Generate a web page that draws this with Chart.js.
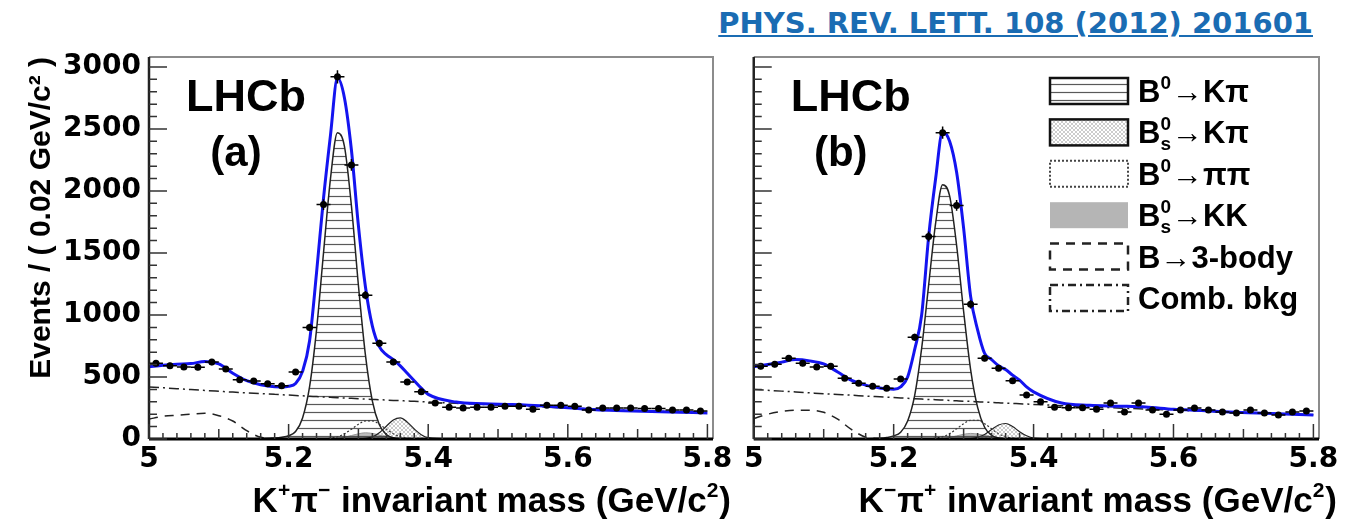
<!DOCTYPE html>
<html>
<head>
<meta charset="utf-8">
<script src="https://cdn.jsdelivr.net/npm/chart.js@4.4.1/dist/chart.umd.min.js"></script>
<style>
  html, body { margin: 0; padding: 0; background: #fff; overflow: hidden; }
  #ref { position: absolute; right: 32px; top: 6px; font: bold 29px "DejaVu Sans"; color: #1a6cb3;
         text-decoration: underline; line-height: 34px; white-space: nowrap; }
  #left { position: absolute; left: 0; top: 0; }
  #right { position: absolute; left: 740px; top: 0; }
</style>
</head>
<body>
<div id="ref">PHYS. REV. LETT. 108 (2012) 201601</div>
<canvas id="left" width="740" height="519"></canvas>
<canvas id="right" width="605" height="519"></canvas>
<script>
// mass points for the fitted curves (GeV/c^2)
var massGrid = [5.00, 5.02, 5.04, 5.06, 5.08, 5.10, 5.12, 5.14, 5.16, 5.18, 5.19, 5.20, 5.21, 5.22, 5.23, 5.24,
  5.25, 5.26, 5.27, 5.28, 5.29, 5.30, 5.31, 5.32, 5.33, 5.34, 5.35, 5.36, 5.37, 5.38, 5.39, 5.40,
  5.44, 5.48, 5.52, 5.56, 5.60, 5.64, 5.68, 5.72, 5.76, 5.80];
// histogram bin centres (0.02 GeV/c^2 bins)
var binCenters = [5.01, 5.03, 5.05, 5.07, 5.09, 5.11, 5.13, 5.15, 5.17, 5.19, 5.21, 5.23, 5.25, 5.27, 5.29,
  5.31, 5.33, 5.35, 5.37, 5.39, 5.41, 5.43, 5.45, 5.47, 5.49, 5.51, 5.53, 5.55, 5.57, 5.59, 5.61, 5.63,
  5.65, 5.67, 5.69, 5.71, 5.73, 5.75, 5.77, 5.79];
var xTicks = [5.0, 5.2, 5.4, 5.6, 5.8];
var xTickLabels = ['5', '5.2', '5.4', '5.6', '5.8'];
var yTicks = [0, 500, 1000, 1500, 2000, 2500, 3000];
var yTickLabels = ['0', '500', '1000', '1500', '2000', '2500', '3000'];

// panel (a)  K+ pi-
var dataA = [611, 590, 580, 578, 620, 565, 478, 467, 445, 430, 540, 900, 1890, 2920, 2210, 1160, 772, 620, 460, 380,
  290, 257, 250, 257, 257, 265, 265, 240, 273, 273, 265, 233, 250, 250, 250, 245, 245, 233, 233, 225];
var totalA = [582, 595, 603, 608, 625, 605, 530, 470, 437, 421, 420, 425, 448, 545, 790, 1340, 1940, 2450, 2910, 2750,
  2330, 1720, 1230, 910, 745, 680, 640, 590, 530, 470, 410, 360, 298, 285, 278, 268, 252, 235, 228, 222, 216, 210];
var combA = [420, 413, 406, 399, 392, 385, 378, 372, 366, 360, 357, 354, 351, 348, 345, 342, 339, 336, 333, 331,
  328, 325, 322, 319, 317, 314, 311, 309, 306, 304, 301, 298, 288, 278, 268, 259, 250, 242, 234, 226, 218, 211];
var threeBodyA = [160, 183, 192, 200, 208, 188, 145, 67, 14, 3, 1, 0];                 // from 5.00
var b0KpiA = [0, 3, 8, 14, 26, 60, 170, 420, 880, 1500, 2100, 2470, 2360, 1880, 1240, 680, 305, 115, 36, 10, 2, 0]; // from 5.14
var bsKpiA = [0, 1, 5, 18, 51, 103, 154, 170, 136, 81, 35, 11, 0];                    // from 5.29
var b0PipiA = [0, 2, 7, 18, 42, 79, 119, 146, 146, 119, 79, 42, 18, 7, 2, 0];         // from 5.24
var bsKKA = [0, 2, 6, 14, 28, 42, 50, 45, 32, 18, 8, 3, 1, 0];                        // from 5.25

// panel (b)  K- pi+
var dataB = [587, 603, 652, 611, 580, 587, 490, 450, 426, 410, 483, 820, 1633, 2470, 1883, 1086, 652, 571, 470, 354,
  300, 257, 252, 252, 240, 290, 217, 290, 233, 200, 233, 250, 233, 217, 209, 233, 209, 193, 217, 225];
var totalB = [582, 600, 620, 640, 630, 605, 540, 472, 434, 412, 405, 402, 420, 500, 720, 1000, 1630, 2100, 2480, 2400,
  2150, 1700, 1150, 880, 690, 640, 590, 560, 515, 475, 420, 380, 290, 272, 265, 258, 240, 230, 218, 210, 202, 194];
var combB = [400, 393, 386, 379, 372, 365, 359, 353, 346, 340, 337, 334, 331, 328, 325, 322, 319, 317, 314, 311,
  308, 305, 303, 300, 297, 295, 292, 289, 287, 284, 282, 279, 269, 260, 250, 242, 233, 225, 217, 209, 202, 195];
var threeBodyB = [165, 200, 222, 232, 232, 215, 160, 75, 15, 3, 1, 0];
var b0KpiB = [0, 2, 6, 12, 25, 55, 145, 350, 730, 1240, 1740, 2050, 1960, 1560, 1030, 560, 255, 95, 30, 8, 2, 0];
var bsKpiB = [0, 1, 4, 14, 37, 76, 113, 125, 100, 59, 26, 8, 0];
var b0PipiB = [0, 2, 7, 19, 43, 82, 123, 151, 151, 123, 82, 43, 19, 7, 2, 0];
var bsKKB = [0, 2, 5, 12, 25, 38, 45, 40, 29, 16, 7, 3, 1, 0];

function curve(start, vals) {
  var i0 = massGrid.indexOf(start);
  return vals.map(function (v, i) { return { x: massGrid[i0 + i], y: v }; });
}

function makePatterns(ctx) {
  var t = document.createElement('canvas');
  t.width = 8; t.height = 8;
  var g = t.getContext('2d');
  g.strokeStyle = 'rgba(60,60,60,0.85)';
  g.lineWidth = 1.2;
  g.beginPath(); g.moveTo(0, 4.5); g.lineTo(8, 4.5); g.stroke();
  var d = document.createElement('canvas');
  d.width = 4; d.height = 4;
  var h = d.getContext('2d');
  h.strokeStyle = 'rgba(120,120,120,0.55)';
  h.lineWidth = 0.7;
  h.beginPath(); h.moveTo(0, 0); h.lineTo(4, 4); h.moveTo(4, 0); h.lineTo(0, 4); h.stroke();
  return { lines: ctx.createPattern(t, 'repeat'), dots: ctx.createPattern(d, 'repeat') };
}

// text with super/subscripts: parts = [{t:..}|{sup:..,sub:..}]
function drawRich(ctx, parts, x, y, size, draw) {
  var cx = x;
  parts.forEach(function (p) {
    if (p.t !== undefined) {
      ctx.font = 'bold ' + size + 'px "Liberation Sans"';
      if (draw) ctx.fillText(p.t, cx, y);
      cx += ctx.measureText(p.t).width;
    } else {
      ctx.font = 'bold ' + Math.round(size * 0.6) + 'px "Liberation Sans"';
      var w = 0;
      if (p.sup) { if (draw) ctx.fillText(p.sup, cx, y - size * 0.42); w = ctx.measureText(p.sup).width; }
      if (p.sub) { if (draw) ctx.fillText(p.sub, cx, y + size * 0.22); w = Math.max(w, ctx.measureText(p.sub).width); }
      cx += w + 1;
    }
  });
  return cx - x;
}

var legendItems = [
  { parts: [{ t: 'B' }, { sup: '0' }, { t: '→Kπ' }], style: 'lines' },
  { parts: [{ t: 'B' }, { sup: '0', sub: 's' }, { t: '→Kπ' }], style: 'dots' },
  { parts: [{ t: 'B' }, { sup: '0' }, { t: '→ππ' }], style: 'dotted' },
  { parts: [{ t: 'B' }, { sup: '0', sub: 's' }, { t: '→KK' }], style: 'gray' },
  { parts: [{ t: 'B→3-body' }], style: 'dashed' },
  { parts: [{ t: 'Comb. bkg' }], style: 'dashdot' }
];

var panelPlugin = {
  id: 'panel',
  afterDatasetsDraw: function (chart) {
    var a = chart.chartArea, ctx = chart.ctx, sx = chart.scales.x, sy = chart.scales.y;
    var p = chart.options.plugins.panel;
    ctx.save();
    // error bars on the data points
    ctx.strokeStyle = '#000';
    ctx.lineWidth = 1.5;
    chart.data.datasets[0].data.forEach(function (pt) {
      var px = sx.getPixelForValue(pt.x), py = sy.getPixelForValue(pt.y);
      var e = Math.sqrt(pt.y);
      ctx.beginPath();
      ctx.moveTo(sx.getPixelForValue(pt.x - 0.01), py);
      ctx.lineTo(sx.getPixelForValue(pt.x + 0.01), py);
      ctx.moveTo(px, sy.getPixelForValue(pt.y - e));
      ctx.lineTo(px, sy.getPixelForValue(pt.y + e));
      ctx.stroke();
    });
    // frame
    ctx.strokeStyle = '#8c8c8c';
    ctx.lineWidth = 2;
    ctx.beginPath(); ctx.moveTo(a.left, a.top); ctx.lineTo(a.right, a.top); ctx.lineTo(a.right, a.bottom); ctx.stroke();
    ctx.strokeStyle = '#222';
    ctx.lineWidth = 2.5;
    ctx.beginPath(); ctx.moveTo(a.left, a.top); ctx.lineTo(a.left, a.bottom); ctx.stroke();
    ctx.strokeStyle = '#000';
    ctx.lineWidth = 3;
    ctx.beginPath(); ctx.moveTo(a.left, a.bottom); ctx.lineTo(a.right, a.bottom); ctx.stroke();
    // inward ticks
    ctx.strokeStyle = '#333';
    ctx.lineWidth = 1.5;
    ctx.beginPath();
    for (var v = 0; v <= 3000; v += 100) {
      var ty = sy.getPixelForValue(v);
      ctx.moveTo(a.left, ty); ctx.lineTo(a.left + (v % 500 === 0 ? 18 : 8), ty);
    }
    for (var i = 0; i <= 40; i++) {
      var tx = sx.getPixelForValue(5 + i * 0.02);
      var len = i % 10 === 0 ? 15 : (i % 5 === 0 ? 10 : 6);
      ctx.moveTo(tx, a.bottom); ctx.lineTo(tx, a.bottom - len);
    }
    ctx.stroke();
    // labels
    ctx.fillStyle = '#000';
    ctx.textBaseline = 'alphabetic';
    ctx.textAlign = 'left';
    ctx.font = 'bold 45px "Liberation Sans"';
    ctx.fillText('LHCb', a.left + 37, 111);
    ctx.textAlign = 'center';
    ctx.font = 'bold 42px "Liberation Sans"';
    ctx.fillText(p.tag, a.left + 87, 166);
    ctx.textAlign = 'left';
    var w = drawRich(ctx, p.xTitle, 0, 0, 35, false);
    drawRich(ctx, p.xTitle, a.right + 18 - w, 512, 35, true);
    // legend
    if (p.legend) {
      var pats = chart.options.plugins.panel.patterns;
      legendItems.forEach(function (it, k) {
        var cy = 91 + k * 41.4, x0 = 310, y0 = cy - 13, bw = 78, bh = 26;
        ctx.save();
        ctx.setLineDash([]);
        if (it.style === 'lines') { ctx.fillStyle = pats.lines; ctx.fillRect(x0, y0, bw, bh); ctx.strokeStyle = '#111'; ctx.lineWidth = 2.5; ctx.strokeRect(x0, y0, bw, bh); }
        if (it.style === 'dots') { ctx.fillStyle = pats.dots; ctx.fillRect(x0, y0, bw, bh); ctx.strokeStyle = '#111'; ctx.lineWidth = 2.5; ctx.strokeRect(x0, y0, bw, bh); }
        if (it.style === 'dotted') { ctx.strokeStyle = '#444'; ctx.lineWidth = 2; ctx.setLineDash([2, 2]); ctx.strokeRect(x0, y0, bw, bh); }
        if (it.style === 'gray') { ctx.fillStyle = '#b5b5b5'; ctx.fillRect(x0, y0, bw, bh); }
        if (it.style === 'dashed') { ctx.strokeStyle = '#222'; ctx.lineWidth = 2.5; ctx.setLineDash([9, 7]); ctx.strokeRect(x0, y0, bw, bh); }
        if (it.style === 'dashdot') { ctx.strokeStyle = '#222'; ctx.lineWidth = 2.5; ctx.setLineDash([8, 4, 2, 4]); ctx.strokeRect(x0, y0, bw, bh); }
        ctx.restore();
        ctx.fillStyle = '#000';
        drawRich(ctx, it.parts, 398, cy + 11, 31, true);
      });
    }
    ctx.restore();
  }
};

function makePanel(id, p) {
  var ctx = document.getElementById(id).getContext('2d');
  var pats = makePatterns(ctx);
  var line = function (extra) {
    return Object.assign({ pointRadius: 0, fill: false, cubicInterpolationMode: 'monotone', spanGaps: false }, extra);
  };
  return new Chart(ctx, {
    type: 'line',
    data: {
      datasets: [
        { label: 'Data', data: binCenters.map(function (m, i) { return { x: m, y: p.data[i] }; }),
          showLine: false, pointRadius: 3.5, pointBackgroundColor: '#000', pointBorderWidth: 0, order: 0 },
        line({ label: 'Total', data: curve(5.00, p.total), borderColor: '#1414f0', borderWidth: 3, order: 1 }),
        line({ label: 'Comb. bkg', data: curve(5.00, p.comb), borderColor: '#222', borderWidth: 1.5, borderDash: [10, 4, 2, 4], order: 2 }),
        line({ label: 'B→3-body', data: curve(5.00, p.threeBody), borderColor: '#222', borderWidth: 1.5, borderDash: [9, 7], order: 3 }),
        line({ label: 'B0→Kπ', data: curve(5.14, p.b0Kpi), borderColor: '#222', borderWidth: 1.5, backgroundColor: pats.lines, fill: 'origin', order: 4 }),
        line({ label: 'Bs→Kπ', data: curve(5.29, p.bsKpi), borderColor: '#222', borderWidth: 1.2, backgroundColor: pats.dots, fill: 'origin', order: 5 }),
        line({ label: 'B0→ππ', data: curve(5.24, p.b0Pipi), borderColor: '#333', borderWidth: 1.2, borderDash: [2, 2], order: 6 }),
        line({ label: 'Bs→KK', data: curve(5.25, p.bsKK), borderColor: '#999', borderWidth: 1, backgroundColor: '#bdbdbd', fill: 'origin', order: 7 })
      ]
    },
    options: {
      responsive: false,
      animation: false,
      devicePixelRatio: 1,
      events: [],
      layout: { padding: { top: 57, right: p.padRight, left: 0, bottom: 0 } },
      plugins: {
        legend: { display: false },
        tooltip: { enabled: false },
        panel: { tag: p.tag, xTitle: p.xTitle, legend: p.legend, patterns: pats }
      },
      scales: {
        x: {
          type: 'linear', min: 5.0, max: 5.808,
          grid: { display: false, drawTicks: false },
          border: { display: false },
          afterBuildTicks: function (s) { s.ticks = xTicks.map(function (v) { return { value: v }; }); },
          afterFit: function (s) { s.height = 80; },
          ticks: {
            autoSkip: false, maxRotation: 0, padding: 4, color: '#000',
            font: { family: 'DejaVu Sans', weight: 'bold', size: 28 },
            callback: function (v) { var i = xTicks.indexOf(v); return i >= 0 ? xTickLabels[i] : ''; }
          }
        },
        y: {
          type: 'linear', min: 0, max: 3080,
          grid: { display: false, drawTicks: false },
          border: { display: false },
          afterBuildTicks: function (s) { s.ticks = yTicks.map(function (v) { return { value: v }; }); },
          afterFit: function (s) { s.width = p.yWidth; },
          ticks: {
            display: p.showY, padding: 8, color: '#000',
            font: { family: 'DejaVu Sans', weight: 'bold', size: 28 },
            callback: function (v) { var i = yTicks.indexOf(v); return i >= 0 ? yTickLabels[i] : ''; }
          },
          title: {
            display: p.showY, text: 'Events / ( 0.02 GeV/c² )', align: 'end', color: '#000',
            font: { family: 'Liberation Sans', weight: 'bold', size: 30 },
            padding: { top: 24, bottom: 0 }
          }
        }
      }
    },
    plugins: [panelPlugin]
  });
}

makePanel('left', {
  data: dataA, total: totalA, comb: combA, threeBody: threeBodyA, b0Kpi: b0KpiA, bsKpi: bsKpiA,
  b0Pipi: b0PipiA, bsKK: bsKKA, tag: '(a)', legend: false, showY: true, yWidth: 149, padRight: 27,
  xTitle: [{ t: 'K' }, { sup: '+' }, { t: 'π' }, { sup: '−' }, { t: ' invariant mass (GeV/c' }, { sup: '2' }, { t: ')' }]
});
makePanel('right', {
  data: dataB, total: totalB, comb: combB, threeBody: threeBodyB, b0Kpi: b0KpiB, bsKpi: bsKpiB,
  b0Pipi: b0PipiB, bsKK: bsKKB, tag: '(b)', legend: true, showY: false, yWidth: 12, padRight: 26,
  xTitle: [{ t: 'K' }, { sup: '−' }, { t: 'π' }, { sup: '+' }, { t: ' invariant mass (GeV/c' }, { sup: '2' }, { t: ')' }]
});
</script>
</body>
</html>
